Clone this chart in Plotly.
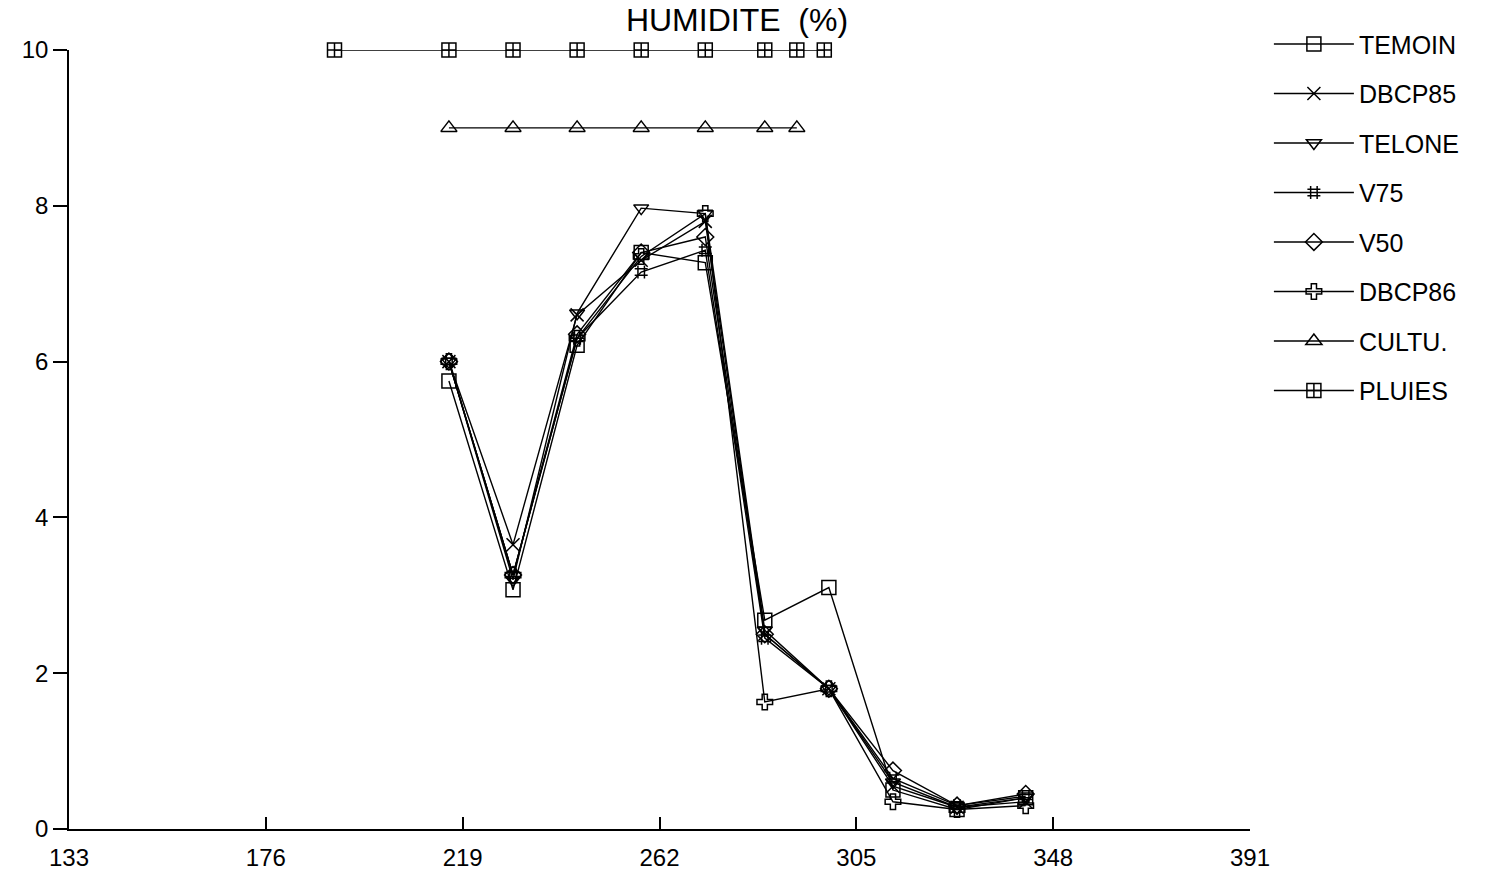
import plotly.graph_objects as go

# Sampling days (day of year) for soil moisture measurements
days = [216, 230, 244, 258, 272, 285, 299, 313, 327, 342]

temoin = [5.75, 3.07, 6.21, 7.40, 7.27, 2.68, 3.10, 0.50, 0.25, 0.40]
dbcp85 = [6.00, 3.65, 6.60, 7.30, 7.80, 2.50, 1.80, 0.55, 0.28, 0.35]
telone = [6.00, 3.20, 6.62, 7.97, 7.90, 2.55, 1.80, 0.60, 0.28, 0.40]
v75 = [6.00, 3.26, 6.30, 7.15, 7.43, 2.45, 1.80, 0.65, 0.30, 0.42]
v50 = [6.00, 3.26, 6.35, 7.40, 7.60, 2.50, 1.80, 0.75, 0.30, 0.45]
dbcp86 = [6.00, 3.26, 6.30, 7.35, 7.90, 1.63, 1.80, 0.35, 0.25, 0.30]

# Crop presence and rain events, drawn as reference bands
cultu_days = [216, 230, 244, 258, 272, 285, 292]
cultu_level = [9, 9, 9, 9, 9, 9, 9]
pluies_days = [191, 216, 230, 244, 258, 272, 285, 292, 298]
pluies_level = [10, 10, 10, 10, 10, 10, 10, 10, 10]

x_ticks = [133, 176, 219, 262, 305, 348, 391]
y_ticks = [0, 2, 4, 6, 8, 10]

series = [
    ("TEMOIN", days, temoin, "square-open", 14),
    ("DBCP85", days, dbcp85, "x-thin-open", 13),
    ("TELONE", days, telone, "triangle-down-open", 13),
    ("V75", days, v75, "hash-open", 13),
    ("V50", days, v50, "diamond-open", 13),
    ("DBCP86", days, dbcp86, "cross-open", 13),
    ("CULTU.", cultu_days, cultu_level, "triangle-up-open", 14),
    ("PLUIES", pluies_days, pluies_level, "square-cross-open", 14),
]

fig = go.Figure()
for i, (name, xs, ys, sym, size) in enumerate(series):
    fig.add_trace(go.Scatter(
        x=xs, y=ys, name=name, mode="lines+markers",
        legendgroup=f"g{i}",
        line=dict(color="black", width=1.4),
        marker=dict(symbol=sym, size=size, color="black",
                    line=dict(color="black", width=1.5)),
        cliponaxis=False,
    ))

fig.update_layout(
    width=1486, height=880,
    paper_bgcolor="white", plot_bgcolor="white",
    margin=dict(l=69, r=236, t=50, b=51, autoexpand=False),
    font=dict(family="Liberation Sans, Arial, sans-serif", color="black", size=24),
    title=dict(text="HUMIDITE\u00a0 (%)", x=737 / 1486, xanchor="center",
               y=0.99, yanchor="top", font=dict(size=32)),
    showlegend=True,
    legend=dict(x=1.016, xanchor="left", y=1.037, yanchor="top",
                font=dict(size=25), tracegroupgap=14, itemwidth=80,
                bgcolor="rgba(0,0,0,0)"),
)

fig.update_xaxes(
    range=[133, 391], tickvals=x_ticks, ticktext=[str(v) for v in x_ticks],
    showgrid=False, zeroline=False, showline=True, linecolor="black", linewidth=1.5,
    ticks="inside", ticklen=12, tickwidth=1.5, tickcolor="black",
    tickfont=dict(size=24), ticklabelstandoff=6, automargin=False,
)
fig.update_yaxes(
    range=[0, 10], tickvals=y_ticks, ticktext=[str(v) for v in y_ticks],
    showgrid=False, zeroline=False, showline=True, linecolor="black", linewidth=1.5,
    ticks="outside", ticklen=14, tickwidth=1.5, tickcolor="black",
    tickfont=dict(size=24), automargin=False,
)

fig.write_html("out.html")
